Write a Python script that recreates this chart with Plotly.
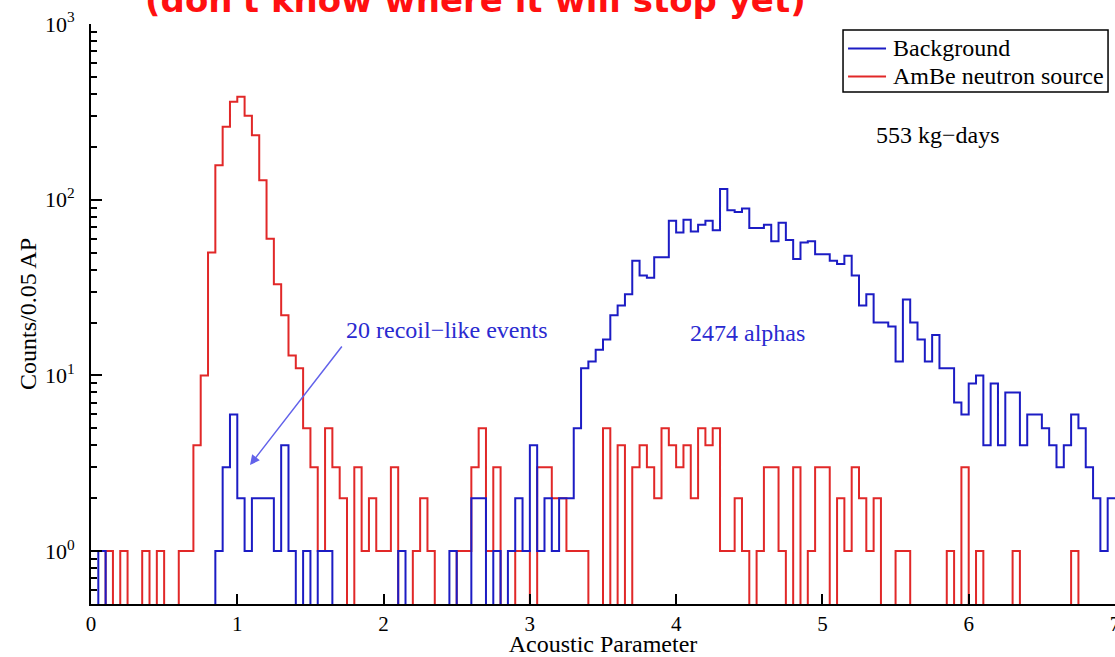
import numpy as np
import plotly.graph_objects as go

# Histogram binning: 140 bins of width 0.05 in acoustic parameter, 0 .. 7
bin_width = 0.05
n_bins = 140

# Counts per bin, AmBe neutron source run
ambe_counts = [
    0, 0, 1, 0, 1, 0, 0, 1, 0, 1,
    0, 0, 1, 1, 4, 10, 50, 157, 260, 361,
    385, 300, 233, 129, 60, 33, 22, 13, 11, 5,
    3, 1, 5, 3, 2, 0, 3, 1, 2, 1,
    1, 3, 0, 0, 1, 2, 1, 0, 0, 0,
    1, 1, 3, 5, 1, 3, 0, 0, 1, 1,
    0, 3, 3, 2, 2, 1, 1, 1, 0, 0,
    5, 0, 4, 0, 3, 4, 3, 2, 5, 4,
    3, 4, 2, 5, 4, 5, 1, 1, 2, 1,
    0, 1, 3, 3, 1, 0, 3, 0, 1, 3,
    3, 0, 2, 1, 3, 2, 1, 2, 0, 0,
    1, 1, 0, 0, 0, 0, 0, 1, 0, 3,
    0, 1, 0, 0, 0, 0, 1, 0, 0, 0,
    0, 0, 0, 0, 1, 0, 0, 0, 0, 0,
]

# Counts per bin, background run (553 kg-days)
background_counts = [
    0, 1, 0, 0, 0, 0, 0, 0, 0, 0,
    0, 0, 0, 0, 0, 0, 0, 1, 3, 6,
    2, 1, 2, 2, 2, 1, 4, 1, 0, 1,
    0, 1, 1, 0, 0, 0, 0, 0, 0, 0,
    0, 0, 1, 0, 0, 0, 0, 0, 0, 1,
    0, 0, 2, 2, 0, 1, 0, 1, 2, 1,
    4, 1, 2, 1, 2, 2, 5, 11, 12, 14,
    16, 22, 25, 29, 45, 37, 36, 47, 47, 76,
    65, 77, 66, 72, 76, 67, 115, 87, 85, 89,
    69, 69, 72, 58, 74, 59, 46, 57, 58, 49,
    49, 45, 43, 48, 37, 25, 29, 20, 20, 19,
    12, 27, 20, 16, 12, 17, 11, 11, 7, 6,
    9, 10, 4, 9, 4, 8, 8, 4, 6, 6,
    5, 4, 3, 4, 6, 5, 3, 2, 1, 2,
]

series_names = ["Background", "AmBe neutron source"]
x_tick_values = [0, 1, 2, 3, 4, 5, 6, 7]
y_tick_values = [1, 10, 100, 1000]
y_tick_labels = ["10<sup>0</sup>", "10<sup>1</sup>", "10<sup>2</sup>", "10<sup>3</sup>"]

BLUE = "#1c1cc4"
RED = "#e12828"
SERIF = "Liberation Serif, Times New Roman, serif"

edges = np.round(np.arange(n_bins + 1) * bin_width, 4)
# empty bins sit below the log-axis floor so the step drops to the frame
EMPTY_LEVEL = 0.05


def step_xy(counts):
    c = np.asarray(counts, dtype=float)
    y = np.where(c > 0, c, EMPTY_LEVEL)
    xs = np.append(edges[:-1], edges[-1])
    ys = np.append(y, y[-1])
    return xs, ys


fig = go.Figure()

xr, yr = step_xy(ambe_counts)
fig.add_trace(go.Scatter(
    x=xr, y=yr, mode="lines", line=dict(color=RED, width=2, shape="hv"),
    name=series_names[1], showlegend=False,
))
xb, yb = step_xy(background_counts)
fig.add_trace(go.Scatter(
    x=xb, y=yb, mode="lines", line=dict(color=BLUE, width=2, shape="hv"),
    name=series_names[0], showlegend=False,
))

minor_vals = [m * 10 ** k for k in range(-1, 3) for m in range(2, 10) if 0.5 <= m * 10 ** k <= 1000]

fig.update_xaxes(
    range=[0, 7], showline=True, linecolor="black", linewidth=2, mirror=False,
    ticks="inside", ticklen=10, tickwidth=1.5, tickcolor="black",
    tickvals=x_tick_values, tickfont=dict(family=SERIF, size=21, color="black"),
    ticklabelstandoff=0, ticklabeloverflow="allow", automargin=False,
    showgrid=False, zeroline=False,
    title=dict(text="Acoustic Parameter", font=dict(family=SERIF, size=24, color="black"), standoff=7),
)
fig.update_yaxes(
    type="log", range=[np.log10(0.5), 3], showline=True, linecolor="black", linewidth=2,
    ticks="inside", ticklen=11, tickwidth=1.5, tickcolor="black",
    tickvals=y_tick_values, ticktext=y_tick_labels,
    tickfont=dict(family=SERIF, size=22, color="black"),
    ticklabelstandoff=10, automargin=False,
    minor=dict(ticks="inside", ticklen=6, tickwidth=1.5, tickcolor="black",
               tickvals=minor_vals, showgrid=False),
    showgrid=False, zeroline=False,
    title=dict(text="Counts/0.05 AP", font=dict(family=SERIF, size=24, color="black"), standoff=1),
)

# boxed key in the upper right corner (paper coordinates)
key_x0, key_x1, key_y0, key_y1 = 0.7344, 0.9932, 0.8828, 0.9897
key_rows = [(series_names[0], BLUE, 0.9578), (series_names[1], RED, 0.9095)]
shapes = [dict(type="rect", xref="paper", yref="paper", x0=key_x0, x1=key_x1, y0=key_y0, y1=key_y1,
               line=dict(color="black", width=1.5), fillcolor="white", layer="above")]
key_texts = []
for label, colour, ky in key_rows:
    shapes.append(dict(type="line", xref="paper", yref="paper", x0=0.7393, x1=0.7764, y0=ky, y1=ky,
                       line=dict(color=colour, width=2), layer="above"))
    key_texts.append(dict(text=label, xref="paper", yref="paper", x=0.7812, y=ky,
                          xanchor="left", yanchor="middle", showarrow=False,
                          font=dict(family=SERIF, size=24, color="black")))

fig.update_layout(
    width=1115, height=657,
    margin=dict(l=91, r=0, t=24, b=53),
    paper_bgcolor="white", plot_bgcolor="white",
    showlegend=False,
    shapes=shapes,
    annotations=[
        dict(text="(don't know where it will stop yet)", xref="paper", yref="paper",
             x=0.375, y=1.0034, xanchor="center", yanchor="bottom", showarrow=False,
             font=dict(family="DejaVu Sans, sans-serif", size=34, color="#ff1010", weight="bold")),
        dict(text="553 kg\u2212days", xref="paper", yref="paper", x=0.827, y=0.8086,
             xanchor="center", yanchor="middle", showarrow=False,
             font=dict(family=SERIF, size=24, color="black")),
        dict(text="20 recoil\u2212like events", xref="paper", yref="paper", x=0.3467, y=0.4724,
             xanchor="center", yanchor="middle", showarrow=False,
             font=dict(family=SERIF, size=24, color="#2a2ad0")),
        dict(text="2474 alphas", xref="paper", yref="paper", x=0.6416, y=0.467,
             xanchor="center", yanchor="middle", showarrow=False,
             font=dict(family=SERIF, size=24, color="#2a2ad0")),
        dict(text="", x=1.087, y=np.log10(3.09), xref="x", yref="y",
             showarrow=True, ax=93, ay=-120, arrowhead=2, arrowsize=1.3,
             arrowwidth=1.5, arrowcolor="#6262ea"),
    ] + key_texts,
)

fig.write_html("out.html")
